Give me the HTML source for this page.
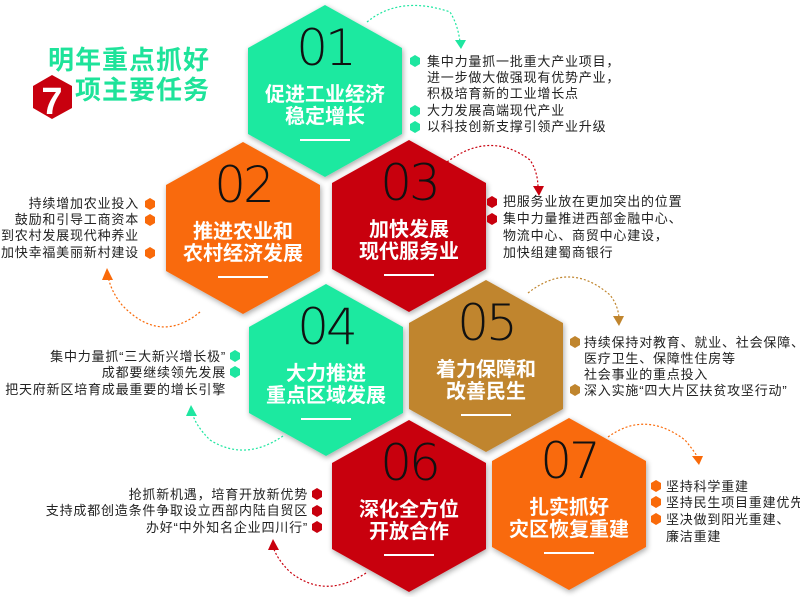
<!DOCTYPE html>
<html><head><meta charset="utf-8"><style>
html,body{margin:0;padding:0;background:#fff;}
svg{display:block;}
.num{font-family:"DejaVu Sans","Liberation Sans",sans-serif;font-weight:200;font-size:50px;fill:#111;text-anchor:middle;letter-spacing:-3px;}
.tt{font-family:"Liberation Sans","Noto Sans CJK SC",sans-serif;font-weight:bold;font-size:20px;fill:#fff;text-anchor:middle;}
.s{font-family:"Liberation Sans","Noto Sans CJK SC",sans-serif;font-size:13px;fill:#222;letter-spacing:0.8px;}
.r{text-anchor:end;}
</style></head><body>
<svg width="800" height="597" viewBox="0 0 800 597" xmlns="http://www.w3.org/2000/svg">
<defs>
<filter id="sh" x="-20%" y="-20%" width="140%" height="140%"><feGaussianBlur in="SourceAlpha" stdDeviation="3"/><feOffset dx="1" dy="2"/><feComponentTransfer><feFuncA type="linear" slope="0.35"/></feComponentTransfer><feMerge><feMergeNode/><feMergeNode in="SourceGraphic"/></feMerge></filter>
<symbol id="hx" viewBox="-78 -86 156 172" overflow="visible"><polygon points="0,-86 78,-43 78,43 0,86 -78,43 -78,-43"/></symbol>
<marker id="ag" viewBox="0 0 10 10" refX="5" refY="9" markerWidth="7" markerHeight="9" orient="auto-start-reverse"><path d="M0,0 L10,0 L5,10z" fill="#1ee6a0"/></marker>
</defs>

<!-- title -->
<text x="48" y="69" font-family="Liberation Sans,Noto Sans CJK SC,sans-serif" font-weight="bold" font-size="26" fill="#1ee39a" letter-spacing="1">明年重点抓好</text>
<text x="75" y="99" font-family="Liberation Sans,Noto Sans CJK SC,sans-serif" font-weight="bold" font-size="26" fill="#1ee39a" letter-spacing="1">项主要任务</text>
<polygon points="52,75 72,86 72,108 52,119 33,108 33,86" fill="#c8000e"/>
<text x="52" y="114" text-anchor="middle" font-family="Liberation Sans,sans-serif" font-weight="bold" font-size="38" fill="#fff">7</text>

<!-- hexagons -->
<g filter="url(#sh)">
<polygon transform="translate(325,91)" points="0,-86 77,-43 77,43 0,86 -77,43 -77,-43" fill="#1ee9a0"/>
<polygon transform="translate(243,228)" points="0,-86 77,-43 77,43 0,86 -77,43 -77,-43" fill="#f96a0a"/>
<polygon transform="translate(409,226)" points="0,-86 77,-43 77,43 0,86 -77,43 -77,-43" fill="#c8000e"/>
<polygon transform="translate(326,370)" points="0,-86 77,-43 77,43 0,86 -77,43 -77,-43" fill="#1ee9a0"/>
<polygon transform="translate(486,366)" points="0,-86 77,-43 77,43 0,86 -77,43 -77,-43" fill="#c0852e"/>
<polygon transform="translate(409,506)" points="0,-86 77,-43 77,43 0,86 -77,43 -77,-43" fill="#c8000e"/>
<polygon transform="translate(569,504)" points="0,-86 77,-43 77,43 0,86 -77,43 -77,-43" fill="#f96a0a"/>
</g>

<!-- hex contents -->
<g>
<text class="num" x="325" y="65">01</text>
<text class="tt" x="325" y="101">促进工业经济</text><text class="tt" x="325" y="123">稳定增长</text>
<rect x="300" y="139" width="50" height="2" fill="#fff"/>

<text class="num" x="243" y="202">02</text>
<text class="tt" x="243" y="238">推进农业和</text><text class="tt" x="243" y="260">农村经济发展</text>
<rect x="218" y="276" width="50" height="2" fill="#fff"/>

<text class="num" x="409" y="200">03</text>
<text class="tt" x="409" y="236">加快发展</text><text class="tt" x="409" y="258">现代服务业</text>
<rect x="384" y="274" width="50" height="2" fill="#fff"/>

<text class="num" x="326" y="344">04</text>
<text class="tt" x="326" y="380">大力推进</text><text class="tt" x="326" y="402">重点区域发展</text>
<rect x="301" y="418" width="50" height="2" fill="#fff"/>

<text class="num" x="486" y="340">05</text>
<text class="tt" x="486" y="376">着力保障和</text><text class="tt" x="486" y="398">改善民生</text>
<rect x="461" y="414" width="50" height="2" fill="#fff"/>

<text class="num" x="409" y="480">06</text>
<text class="tt" x="409" y="516">深化全方位</text><text class="tt" x="409" y="538">开放合作</text>
<rect x="384" y="554" width="50" height="2" fill="#fff"/>

<text class="num" x="569" y="478">07</text>
<text class="tt" x="569" y="514">扎实抓好</text><text class="tt" x="569" y="536">灾区恢复重建</text>
<rect x="544" y="552" width="50" height="2" fill="#fff"/>
</g>

<!-- arcs -->
<g fill="none" stroke-width="1.2" stroke-dasharray="2,2">
<path d="M367,22 Q400,-5 450,12 Q458,25 460,42" stroke="#1ee6a0"/>
<path d="M447,162 Q490,130 530,160 Q538,172 538,188" stroke="#c8000e"/>
<path d="M200,312 Q160,345 122,305 Q110,290 108,275" stroke="#f96a0a"/>
<path d="M283,436 Q245,462 210,440 Q195,425 192,412" stroke="#1ee6a0"/>
<path d="M528,293 Q570,260 610,295 Q618,305 619,318" stroke="#c0852e"/>
<path d="M366,573 Q325,600 290,572 Q276,558 273,546" stroke="#c8000e"/>
<path d="M608,437 Q645,410 685,440 Q695,452 698,458" stroke="#f96a0a"/>
</g>
<g>
<path d="M455,40 L466,40 L461,49z" fill="#1ee6a0"/>
<path d="M533,186 L544,186 L539,196z" fill="#c8000e"/>
<path d="M102,280 L113,280 L107,268z" fill="#f96a0a"/>
<path d="M186,416 L197,416 L191,405z" fill="#1ee6a0"/>
<path d="M613,316 L624,316 L619,326z" fill="#c0852e"/>
<path d="M268,550 L279,550 L273,539z" fill="#c8000e"/>
<path d="M692,456 L703,456 L699,465z" fill="#f96a0a"/>
</g>

<!-- bullets helper: small hexagons -->
<g id="b01" fill="#1ee6a0">
<polygon points="415,55 420,58 420,64 415,67 410,64 410,58"/>
<polygon points="415,105 420,108 420,114 415,117 410,114 410,108"/>
<polygon points="415,121 420,124 420,130 415,133 410,130 410,124"/>
</g>
<text class="s" x="427" y="66">集中力量抓一批重大产业项目，</text>
<text class="s" x="427" y="82">进一步做大做强现有优势产业，</text>
<text class="s" x="427" y="98">积极培育新的工业增长点</text>
<text class="s" x="427" y="115">大力发展高端现代产业</text>
<text class="s" x="427" y="131">以科技创新支撑引领产业升级</text>

<g fill="#c8000e">
<polygon points="492,196 497,199 497,205 492,208 487,205 487,199"/>
<polygon points="492,213 497,216 497,222 492,225 487,222 487,216"/>
</g>
<text class="s" x="503" y="206">把服务业放在更加突出的位置</text>
<text class="s" x="503" y="223">集中力量推进西部金融中心、</text>
<text class="s" x="503" y="240">物流中心、商贸中心建设，</text>
<text class="s" x="503" y="257">加快组建蜀商银行</text>

<g fill="#f96a0a">
<polygon points="150,198 155,201 155,207 150,210 145,207 145,201"/>
<polygon points="150,214 155,217 155,223 150,226 145,223 145,217"/>
<polygon points="150,247 155,250 155,256 150,259 145,256 145,250"/>
</g>
<text class="s r" x="139" y="208">持续增加农业投入</text>
<text class="s r" x="139" y="224">鼓励和引导工商资本</text>
<text class="s r" x="139" y="240">到农村发展现代种养业</text>
<text class="s r" x="139" y="257">加快幸福美丽新村建设</text>

<g fill="#1ee6a0">
<polygon points="235,350 240,353 240,359 235,362 230,359 230,353"/>
<polygon points="235,366 240,369 240,375 235,378 230,375 230,369"/>
</g>
<text class="s r" x="226" y="361">集中力量抓“三大新兴增长极”</text>
<text class="s r" x="226" y="377">成都要继续领先发展</text>
<text class="s r" x="226" y="394">把天府新区培育成最重要的增长引擎</text>

<g fill="#c0852e">
<polygon points="575,336 580,339 580,345 575,348 570,345 570,339"/>
<polygon points="575,384 580,387 580,393 575,396 570,393 570,387"/>
</g>
<text class="s" x="584" y="347">持续保持对教育、就业、社会保障、</text>
<text class="s" x="584" y="363">医疗卫生、保障性住房等</text>
<text class="s" x="584" y="379">社会事业的重点投入</text>
<text class="s" x="584" y="395">深入实施“四大片区扶贫攻坚行动”</text>

<g fill="#c8000e">
<polygon points="317,488 322,491 322,497 317,500 312,497 312,491"/>
<polygon points="317,505 322,508 322,514 317,517 312,514 312,508"/>
<polygon points="317,521 322,524 322,530 317,533 312,530 312,524"/>
</g>
<text class="s r" x="308" y="499">抢抓新机遇，培育开放新优势</text>
<text class="s r" x="308" y="515">支持成都创造条件争取设立西部内陆自贸区</text>
<text class="s r" x="308" y="532">办好“中外知名企业四川行”</text>

<g fill="#f96a0a">
<polygon points="656,480 661,483 661,489 656,492 651,489 651,483"/>
<polygon points="656,496 661,499 661,505 656,508 651,505 651,499"/>
<polygon points="656,513 661,516 661,522 656,525 651,522 651,516"/>
</g>
<text class="s" x="666" y="491">坚持科学重建</text>
<text class="s" x="666" y="507">坚持民生项目重建优先</text>
<text class="s" x="666" y="524">坚决做到阳光重建、</text>
<text class="s" x="666" y="541">廉洁重建</text>
</svg>
</body></html>
